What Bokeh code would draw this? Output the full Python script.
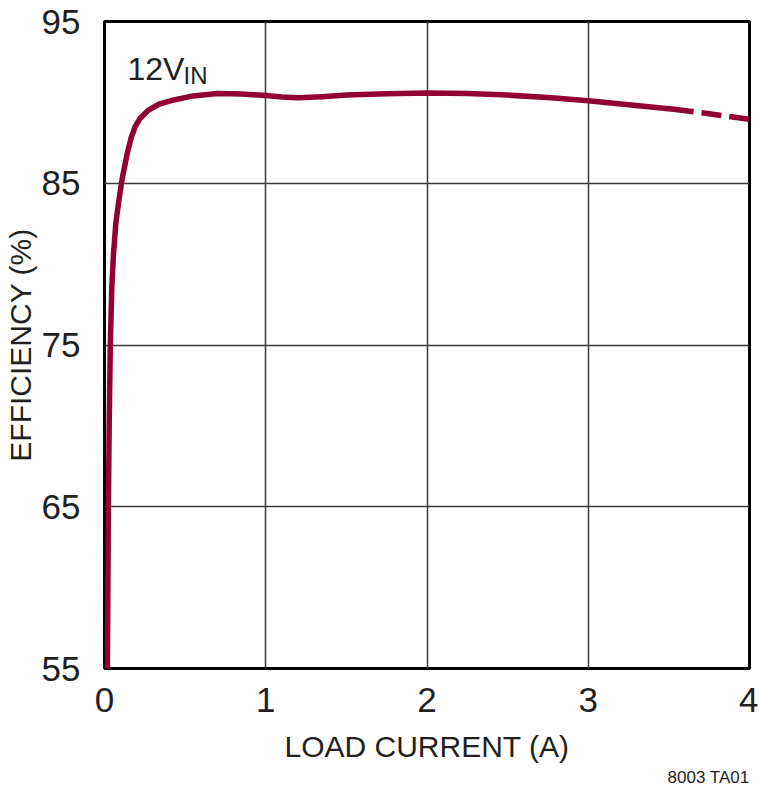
from bokeh.plotting import figure
from bokeh.models import Label, FixedTicker, Range1d, Title
from bokeh.embed import file_html
from bokeh.resources import INLINE

# Efficiency curve at 12V input (solid measured part, dashed extension)
solid_current = [0.018, 0.021, 0.024, 0.029, 0.036, 0.045, 0.055, 0.07, 0.09, 0.11,
                 0.14, 0.165, 0.19, 0.22, 0.27, 0.34, 0.43, 0.55, 0.7, 0.85,
                 1.0, 1.1, 1.2, 1.35, 1.5, 1.75, 2.0, 2.25, 2.5, 2.77, 3.0, 3.25, 3.53]
solid_eff = [55.0, 60.0, 65.0, 70.0, 75.0, 78.5, 80.5, 82.5, 84.0, 85.3,
             86.8, 87.8, 88.5, 89.0, 89.5, 89.9, 90.15, 90.4, 90.55, 90.52,
             90.42, 90.33, 90.28, 90.35, 90.45, 90.53, 90.58, 90.55, 90.45, 90.28, 90.1, 89.85, 89.57]
dashed_current = [3.53, 3.75, 4.0]
dashed_eff = [89.57, 89.3, 88.95]

x_ticks = [0, 1, 2, 3, 4]
y_ticks = [55, 65, 75, 85, 95]

FONT = "Liberation Sans"
TXT = "#231F20"
RED = "#930032"

W, H = 758, 794
p = figure(width=W, height=H, output_backend="svg", toolbar_location=None,
           x_range=Range1d(0, 4), y_range=Range1d(55, 95),
           min_border_left=103, min_border_right=9, min_border_top=21, min_border_bottom=H - 668)

p.outline_line_color = "black"
p.outline_line_width = 3

for ax in (p.xaxis[0], p.yaxis[0]):
    ax.axis_line_color = None
    ax.major_tick_line_color = None
    ax.minor_tick_line_color = None
    ax.major_label_text_font = FONT
    ax.major_label_text_font_size = "35px"
    ax.major_label_text_color = TXT
    ax.axis_label_text_font = FONT
    ax.axis_label_text_font_size = "30px"
    ax.axis_label_text_font_style = "normal"
    ax.axis_label_text_color = TXT

p.xaxis.ticker = FixedTicker(ticks=x_ticks)
p.yaxis.ticker = FixedTicker(ticks=y_ticks)
p.xaxis.major_label_standoff = 13
p.yaxis.major_label_standoff = 18
p.xaxis.axis_label = "LOAD CURRENT (A)"
p.yaxis.axis_label = "EFFICIENCY (%)"
p.xaxis.axis_label_standoff = 15
p.yaxis.axis_label_standoff = 2

p.xgrid.ticker = FixedTicker(ticks=x_ticks)
p.ygrid.ticker = FixedTicker(ticks=y_ticks)
p.grid.grid_line_color = "#3a3a3a"
p.grid.grid_line_width = 1.5

p.line(solid_current, solid_eff, line_color=RED, line_width=5.5, line_join="round", line_cap="round")
p.line(dashed_current, dashed_eff, line_color=RED, line_width=5.5, line_dash="20 8")

# screen units here are measured from the frame's lower-left corner
FL, FB = 103, 668
p.add_layout(Label(x=126 - FL, y=FB - 68, x_units="screen", y_units="screen", text="12V",
                   text_font=FONT, text_font_size="32px", text_color=TXT, text_baseline="alphabetic"))
p.add_layout(Label(x=182 - FL, y=FB - 75, x_units="screen", y_units="screen", text="IN",
                   text_font=FONT, text_font_size="24px", text_color=TXT, text_baseline="alphabetic"))

p.add_layout(Title(text="8003 TA01", align="right", text_font=FONT, text_font_size="17px",
                   text_font_style="normal", text_color=TXT, standoff=0, offset=0), "below")

open("out.html", "w").write(file_html(p, INLINE))
